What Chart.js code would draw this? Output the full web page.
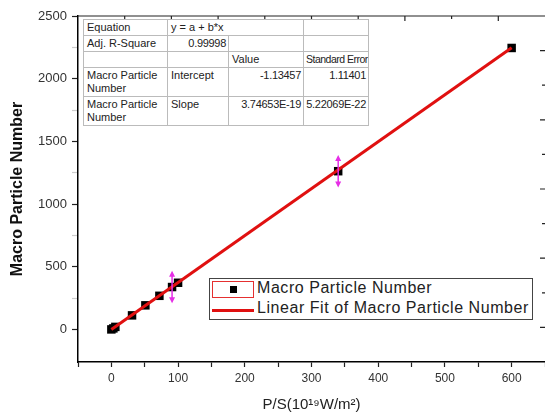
<!DOCTYPE html>
<html>
<head>
<meta charset="utf-8">
<script src="https://cdn.jsdelivr.net/npm/chart.js@4.4.0/dist/chart.umd.min.js"></script>
<style>
  body { margin: 0; background: #fff; }
  #wrap { position: relative; width: 545px; height: 420px; overflow: hidden; }
  #fitTable {
    position: absolute; left: 83px; top: 19px; width: 285px; table-layout: fixed;
    border-collapse: collapse; border: 1.5px solid #333;
    font-family: "Liberation Sans", Arial, sans-serif; font-size: 11px; color: #222;
    background: #fff;
  }
  #fitTable td { border: 1px solid #bbb; padding: 1px 3px; vertical-align: top; line-height: 13px; overflow: hidden; }
  #fitTable td.r { text-align: right; white-space: nowrap; letter-spacing: -0.3px; padding-left: 1px; padding-right: 2px; }
  #fitTable td.nw { white-space: nowrap; font-size: 10.5px; letter-spacing: -0.5px; padding-left: 2px; padding-right: 0; }
  #legendBox {
    position: absolute; left: 209px; top: 278px; width: 322px; height: 40px;
    border: 1px solid #444; background: #fff;
    font-family: "Liberation Sans", Arial, sans-serif; font-size: 16px; color: #222;
  }
  .lrow { position: absolute; left: 0; height: 20px; width: 100%; }
  .lrow span { position: absolute; left: 47px; top: 0px; letter-spacing: 0.55px; white-space: nowrap; }
  .symBox { position: absolute; left: 2px; top: 2px; width: 40px; height: 15px; border: 1px solid #e53030; }
  .symBox i { position: absolute; left: 17px; top: 4px; width: 7px; height: 7px; background: #000; }
  .symLine { position: absolute; left: 2px; top: 10px; width: 42px; height: 3px; background: #e01010; }
</style>
</head>
<body>
<div id="wrap">
  <canvas id="myChart" width="545" height="420"></canvas>
  <table id="fitTable">
    <colgroup><col style="width:84px"><col style="width:61px"><col style="width:75px"><col style="width:65px"></colgroup>
    <tr><td>Equation</td><td colspan="2">y = a + b*x</td><td></td></tr>
    <tr><td>Adj. R-Square</td><td class="r">0.99998</td><td></td><td></td></tr>
    <tr><td></td><td></td><td>Value</td><td class="nw">Standard Error</td></tr>
    <tr><td>Macro Particle Number</td><td>Intercept</td><td class="r">-1.13457</td><td class="r">1.11401</td></tr>
    <tr><td>Macro Particle Number</td><td>Slope</td><td class="r">3.74653E-19</td><td class="r">5.22069E-22</td></tr>
  </table>
  <div id="legendBox">
    <div class="lrow" style="top:0"><div class="symBox"><i></i></div><span>Macro Particle Number</span></div>
    <div class="lrow" style="top:20px"><div class="symLine"></div><span>Linear Fit of Macro Particle Number</span></div>
  </div>
</div>
<script>
// measured points
const psValues = [0, 3, 6, 31, 51, 72, 91, 100, 340, 600];
const particleNumbers = [0, 8, 20, 112, 192, 268, 338, 372, 1262, 2245];
const particleErrors = [0, 0, 0, 0, 0, 0, 130, 0, 130, 0];

// linear fit y = a + b*x (x in 10^19 W/m^2)
const fitIntercept = -1.13457;
const fitSlope = 3.74653;
const fitX = [0, 600];

const xTicks = [-50, 0, 50, 100, 150, 200, 250, 300, 350, 400, 450, 500, 550, 600, 650];
const yTicks = [0, 250, 500, 750, 1000, 1250, 1500, 1750, 2000, 2250, 2500];

const fitPoints = fitX.map(x => ({ x: x, y: fitIntercept + fitSlope * x }));
const scatterPoints = psValues.map((x, i) => ({ x: x, y: particleNumbers[i] }));

// error bars with arrow heads
const errorBars = {
    id: 'errorBars',
    afterDatasetsDraw(chart) {
        const ctx = chart.ctx;
        const xs = chart.scales.x, ys = chart.scales.y;
        ctx.save();
        ctx.strokeStyle = '#e62ee6';
        ctx.fillStyle = '#e62ee6';
        ctx.lineWidth = 1.5;
        psValues.forEach((x, i) => {
            const e = particleErrors[i];
            if (!e) return;
            const px = xs.getPixelForValue(x);
            const top = ys.getPixelForValue(particleNumbers[i] + e);
            const bot = ys.getPixelForValue(particleNumbers[i] - e);
            ctx.beginPath();
            ctx.moveTo(px, top + 3);
            ctx.lineTo(px, bot - 3);
            ctx.stroke();
            ctx.beginPath();
            ctx.moveTo(px, top); ctx.lineTo(px - 3, top + 6); ctx.lineTo(px + 3, top + 6); ctx.closePath();
            ctx.moveTo(px, bot); ctx.lineTo(px - 3, bot - 6); ctx.lineTo(px + 3, bot - 6); ctx.closePath();
            ctx.fill();
        });
        ctx.restore();
    }
};

// top line and inward ticks on top / right like Origin frame
const frameTicks = {
    id: 'frameTicks',
    afterDraw(chart) {
        const ctx = chart.ctx;
        const a = chart.chartArea;
        ctx.save();
        ctx.strokeStyle = '#222';
        ctx.lineWidth = 1.2;
        ctx.beginPath();
        ctx.moveTo(a.left, a.top);
        ctx.lineTo(a.right, a.top);
        for (let k = 1; k < 10; k++) {
            const x = a.left + (a.right - a.left) * k / 10;
            ctx.moveTo(x, a.top);
            ctx.lineTo(x, a.top + (k % 2 ? 5 : 3));
            const y = a.top + (a.bottom - a.top) * k / 10;
            ctx.moveTo(a.right, y);
            ctx.lineTo(a.right - (k % 2 ? 5 : 3), y);
        }
        ctx.stroke();
        ctx.restore();
    }
};

const ctx = document.getElementById('myChart').getContext('2d');
const myChart = new Chart(ctx, {
    type: 'scatter',
    data: {
        datasets: [{
            type: 'line',
            label: 'Linear Fit of Macro Particle Number',
            data: fitPoints,
            borderColor: '#e01010',
            borderWidth: 3,
            pointRadius: 0,
            fill: false,
            order: 0
        }, {
            label: 'Macro Particle Number',
            data: scatterPoints,
            pointStyle: 'rect',
            pointRadius: 6,
            backgroundColor: '#000',
            borderColor: '#000',
            borderWidth: 0,
            order: 1
        }]
    },
    options: {
        responsive: false,
        animation: false,
        devicePixelRatio: 1,
        layout: { autoPadding: false, padding: { top: 16, right: 0, left: 0, bottom: 0 } },
        plugins: {
            legend: { display: false },
            tooltip: { enabled: false }
        },
        scales: {
            x: {
                type: 'linear',
                min: -50,
                max: 650,
                afterFit: function (scale) {
                    scale.height = 58;
                    scale.paddingLeft = 0;
                    scale.paddingRight = 0;
                },
                afterBuildTicks: function (scale) { scale.ticks = xTicks.map(v => ({ value: v })); },
                border: { color: '#000', width: 1.5 },
                grid: { drawOnChartArea: false, tickLength: 5, tickColor: '#222', tickWidth: 1.2 },
                ticks: {
                    autoSkip: false,
                    maxRotation: 0,
                    padding: 4,
                    color: '#333',
                    font: { family: 'Liberation Sans', size: 12 },
                    callback: function (v) { return (v % 100 === 0 && v >= 0 && v <= 600) ? v : ''; }
                },
                title: {
                    display: true,
                    text: 'P/S(10¹⁹W/m²)',
                    color: '#222',
                    font: { family: 'Liberation Sans', size: 15 },
                    padding: { top: 0, bottom: 6 }
                }
            },
            y: {
                type: 'linear',
                min: -260,
                max: 2500,
                afterFit: function (scale) { scale.width = 78; },
                afterBuildTicks: function (scale) { scale.ticks = yTicks.map(v => ({ value: v })); },
                border: { color: '#000', width: 1.5 },
                grid: {
                    drawOnChartArea: false,
                    tickLength: 6,
                    tickWidth: 1.2,
                    tickColor: function (c) { return c.tick && c.tick.value % 500 === 0 ? '#222' : '#ccc'; }
                },
                ticks: {
                    autoSkip: false,
                    padding: 5,
                    color: '#333',
                    font: { family: 'Liberation Sans', size: 13 },
                    callback: function (v) { return v % 500 === 0 ? v : ''; }
                },
                title: {
                    display: true,
                    text: 'Macro Particle Number',
                    color: '#111',
                    font: { family: 'Liberation Sans', size: 16, weight: 'bold' },
                    padding: { top: 8, bottom: 0 }
                }
            }
        }
    },
    plugins: [errorBars, frameTicks]
});
</script>
</body>
</html>
